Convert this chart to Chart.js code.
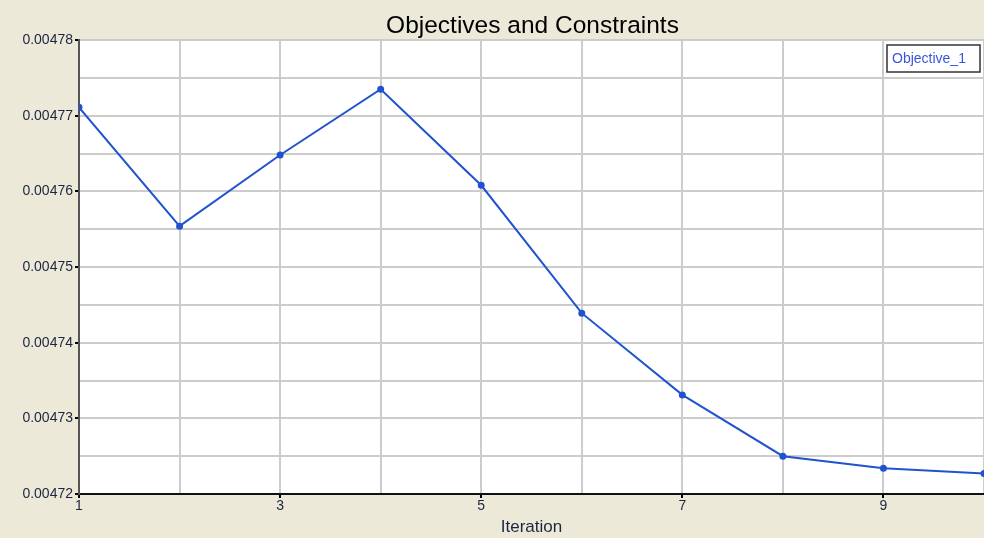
<!DOCTYPE html>
<html>
<head>
<meta charset="utf-8">
<script src="https://cdn.jsdelivr.net/npm/chart.js@4/dist/chart.umd.min.js"></script>
<style>
  html, body { margin: 0; padding: 0; background: #ECE9D8; }
  #wrap { width: 984px; height: 538px; position: relative; }
</style>
</head>
<body>
<div id="wrap"><canvas id="chart"></canvas></div>
<script>
// Objective history per iteration
const iterations = [1, 2, 3, 4, 5, 6, 7, 8, 9, 10];
const objective1 = [0.0047711, 0.0047554, 0.0047648, 0.0047735, 0.0047608,
                    0.0047439, 0.0047331, 0.0047250, 0.0047234, 0.0047227];
const seriesName = 'Objective_1';
const titleText = 'Objectives and Constraints';
const xTitle = 'Iteration';

const FONT = "'Liberation Sans', Arial, sans-serif";
const LINE = '#2152cf';
const INK = '#1c2540';

// white plot area on the beige panel
const plotBg = {
  id: 'plotBg',
  beforeDraw(chart) {
    const { ctx, chartArea: a } = chart;
    ctx.save();
    ctx.fillStyle = '#ffffff';
    ctx.fillRect(a.left, a.top, a.right - a.left, a.bottom - a.top);
    ctx.restore();
  }
};

// title centred over the plot, boxed legend top-right
const decor = {
  id: 'decor',
  afterDraw(chart) {
    const { ctx, chartArea: a } = chart;
    ctx.save();
    ctx.font = '24.5px ' + FONT;
    ctx.fillStyle = '#000000';
    ctx.textAlign = 'center';
    ctx.textBaseline = 'alphabetic';
    ctx.fillText(titleText, (a.left + a.right) / 2 + 1, 33);

    const label = chart.data.datasets[0].label;
    ctx.font = '14px ' + FONT;
    ctx.textAlign = 'left';
    const w = 93, h = 27;
    const x = a.right - w - 4, y = a.top + 5;
    ctx.fillStyle = '#ffffff';
    ctx.fillRect(x, y, w, h);
    ctx.strokeStyle = '#333333';
    ctx.lineWidth = 1.5;
    ctx.strokeRect(x, y, w, h);
    ctx.fillStyle = '#3a56d8';
    ctx.textBaseline = 'middle';
    ctx.fillText(label, x + 5, y + h / 2 + 1);
    ctx.restore();
  }
};

const isMajorY = v => Math.round(v * 1e6) % 10 === 0;

new Chart(document.getElementById('chart'), {
  type: 'line',
  data: {
    datasets: [{
      label: seriesName,
      data: iterations.map((it, i) => ({ x: it, y: objective1[i] })),
      borderColor: LINE,
      backgroundColor: LINE,
      borderWidth: 2,
      pointRadius: 2.5,
      pointHoverRadius: 3,
      tension: 0
    }]
  },
  options: {
    responsive: true,
    maintainAspectRatio: false,
    animation: false,
    layout: { autoPadding: false, padding: { left: 0, right: 0, top: 40, bottom: 0 } },
    plugins: {
      legend: { display: false },
      tooltip: { enabled: false },
      title: { display: false }
    },
    scales: {
      x: {
        type: 'linear',
        min: 1,
        max: 10,
        ticks: {
          stepSize: 1,
          autoSkip: false,
          maxRotation: 0,
          color: INK,
          font: { family: FONT, size: 14 },
          padding: 0,
          callback: v => (v % 2 === 1 ? String(v) : '')
        },
        grid: {
          color: '#cccccc',
          lineWidth: 2,
          tickLength: 4,
          tickColor: ctx => (ctx.tick && ctx.tick.value % 2 === 1 ? '#000000' : 'rgba(0,0,0,0)')
        },
        border: { color: '#111111', width: 2 },
        title: {
          display: true,
          text: xTitle,
          color: INK,
          font: { family: FONT, size: 17 },
          padding: { top: 0, bottom: 0 }
        },
        afterFit: s => { s.height = 44; }
      },
      y: {
        min: 0.00472,
        max: 0.00478,
        ticks: {
          stepSize: 0.000005,
          autoSkip: false,
          color: INK,
          font: { family: FONT, size: 14 },
          padding: 2,
          callback: v => (isMajorY(v) ? (Math.round(v * 1e5) / 1e5).toFixed(5) : '')
        },
        grid: {
          color: '#cccccc',
          lineWidth: 2,
          tickLength: 4,
          tickColor: ctx => (ctx.tick && isMajorY(ctx.tick.value) ? '#000000' : 'rgba(0,0,0,0)')
        },
        border: { color: '#555555', width: 2 },
        afterFit: s => { s.width = 79; }
      }
    }
  },
  plugins: [plotBg, decor]
});
</script>
</body>
</html>
